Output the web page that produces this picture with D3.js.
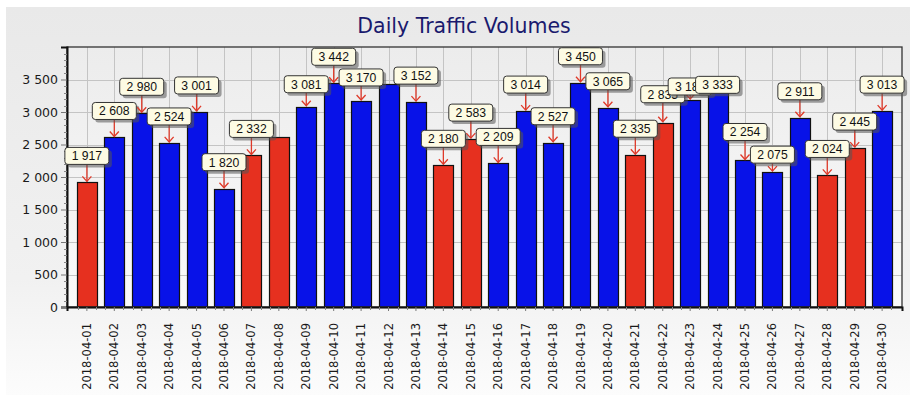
<!DOCTYPE html>
<html><head><meta charset="utf-8">
<script src="https://cdn.jsdelivr.net/npm/d3@7/dist/d3.min.js"></script>
<style>body{margin:0;background:#fff}svg{display:block}</style>
</head><body>
<svg id="c" width="916" height="400"></svg>
<script>
// ---- data ----
const dates = ["2018-04-01","2018-04-02","2018-04-03","2018-04-04","2018-04-05","2018-04-06","2018-04-07","2018-04-08","2018-04-09","2018-04-10","2018-04-11","2018-04-12","2018-04-13","2018-04-14","2018-04-15","2018-04-16","2018-04-17","2018-04-18","2018-04-19","2018-04-20","2018-04-21","2018-04-22","2018-04-23","2018-04-24","2018-04-25","2018-04-26","2018-04-27","2018-04-28","2018-04-29","2018-04-30"];
const volumes = [1917,2608,2980,2524,3001,1820,2332,2615,3081,3442,3170,3426,3152,2180,2583,2209,3014,2527,3450,3065,2335,2835,3185,3333,2254,2075,2911,2024,2445,3013];
const yTicks = [0,500,1000,1500,2000,2500,3000,3500];
const hiddenMarks = ["2018-04-08","2018-04-12"];
const title = "Daily Traffic Volumes";

// ---- layout / style ----
const P = {left: 67, right: 902, top: 47, bottom: 307};
const RED = "#e6301f", BLUE = "#0812e8";
const defaultLift = 18;
const liftOverride = {"2018-04-09":14,"2018-04-11":15,"2018-04-22":20,"2018-04-23":5,"2018-04-24":-3,"2018-04-25":20,"2018-04-26":9};

const svg = d3.select("#c");
const defs = svg.append("defs");
const g1 = defs.append("linearGradient").attr("id","panelG").attr("x1",0).attr("y1",0).attr("x2",0).attr("y2",1);
g1.append("stop").attr("offset","0%").attr("stop-color","#e9e9e9");
g1.append("stop").attr("offset","70%").attr("stop-color","#f1f1f1");
g1.append("stop").attr("offset","100%").attr("stop-color","#fcfcfc");
const g2 = defs.append("linearGradient").attr("id","plotG").attr("x1",0).attr("y1",0).attr("x2",0).attr("y2",1);
g2.append("stop").attr("offset","0%").attr("stop-color","#ececec");
g2.append("stop").attr("offset","100%").attr("stop-color","#fafafa");

svg.append("rect").attr("x",6).attr("y",7).attr("width",904).attr("height",388).attr("fill","url(#panelG)");

svg.append("text").attr("x",464).attr("y",33).attr("text-anchor","middle")
  .attr("font-family","DejaVu Sans, Verdana, sans-serif").attr("font-size",20.5)
  .attr("fill","#1a1a6e").text(title);

const x = d3.scaleBand().domain(dates).range([P.left, P.right]).paddingInner(0.27).paddingOuter(0.36);
const y = d3.scaleLinear().domain([0,4000]).range([P.bottom, P.top]);

svg.append("rect").attr("x",P.left).attr("y",P.top).attr("width",P.right-P.left).attr("height",P.bottom-P.top).attr("fill","url(#plotG)");

// grid
const grid = svg.append("g").attr("stroke","#c4c4c4").attr("stroke-width",1);
grid.selectAll("line.h").data(yTicks.slice(1)).join("line")
  .attr("x1",P.left).attr("x2",P.right).attr("y1",d=>Math.round(y(d))+0.5).attr("y2",d=>Math.round(y(d))+0.5);
grid.selectAll("line.v").data(dates).join("line")
  .attr("y1",P.top).attr("y2",P.bottom).attr("x1",d=>Math.round(x(d)+x.bandwidth()/2)+0.5).attr("x2",d=>Math.round(x(d)+x.bandwidth()/2)+0.5);

// bars
const isWeekend = d => { const wd = new Date(d+"T00:00:00Z").getUTCDay(); return wd===0||wd===6; };
svg.append("g").selectAll("rect").data(dates).join("rect")
  .attr("x",d=>Math.round(x(d))+0.5).attr("width",Math.round(x.bandwidth()))
  .attr("y",(d,i)=>Math.round(y(volumes[i]))+0.5).attr("height",(d,i)=>Math.round(y(0))-Math.round(y(volumes[i])))
  .attr("fill",d=>isWeekend(d)?RED:BLUE).attr("stroke","#111").attr("stroke-width",1.2);

// frame
svg.append("rect").attr("x",P.left).attr("y",P.top).attr("width",P.right-P.left).attr("height",P.bottom-P.top)
  .attr("fill","none").attr("stroke","#333").attr("stroke-width",1.3);

// y axis
const yAxis = d3.axisLeft(y).tickValues(yTicks).tickSize(6).tickPadding(3)
  .tickFormat(d=>d3.format(",")(d).replace(/,/g," "));
const ya = svg.append("g").attr("transform",`translate(${P.left},0)`).call(yAxis);
ya.select(".domain").attr("stroke","#111").attr("stroke-width",2);
ya.selectAll(".tick line").attr("stroke","#777");
ya.selectAll("text").attr("font-family","DejaVu Sans, Verdana, sans-serif").attr("font-size",12.5).attr("fill","#1a1a1a");
const yMinor = d3.range(0,4001,100).filter(v=>v%500!==0);
svg.append("g").selectAll("line").data(yMinor).join("line")
  .attr("x1",P.left-3).attr("x2",P.left).attr("y1",d=>Math.round(y(d))+0.5).attr("y2",d=>Math.round(y(d))+0.5).attr("stroke","#888");

// x axis
const xAxis = d3.axisBottom(x).tickSize(4);
const xa = svg.append("g").attr("transform",`translate(0,${P.bottom})`).call(xAxis);
xa.select(".domain").attr("stroke","#111").attr("stroke-width",2);
xa.selectAll(".tick line").attr("stroke","#777");
xa.selectAll("text").attr("font-family","DejaVu Sans, Verdana, sans-serif").attr("font-size",11.5).attr("fill","#1a1a1a")
  .attr("transform","rotate(-90)").attr("text-anchor","end").attr("y",0).attr("dy","0.35em").attr("x",-16);
const step = x.step();
const xMinor = [];
dates.forEach(d=>{ const c = x(d)+x.bandwidth()/2; xMinor.push(c-step/3, c+step/3); });
svg.append("g").selectAll("line").data(xMinor).join("line")
  .attr("x1",d=>Math.round(d)+0.5).attr("x2",d=>Math.round(d)+0.5).attr("y1",P.bottom).attr("y2",P.bottom+3).attr("stroke","#888");

// marks
const boxW = 44, boxH = 17;
const marks = svg.append("g");
dates.forEach((d,i)=>{
  if (hiddenMarks.includes(d)) return;
  const cx = x(d)+x.bandwidth()/2;
  const top = y(volumes[i]);
  const lift = liftOverride[d] ?? defaultLift;
  const bb = top - lift;
  const gg = marks.append("g");
  if (lift > 2) {
    gg.append("line").attr("x1",cx).attr("x2",cx).attr("y1",bb).attr("y2",top-1).attr("stroke","#e03a2a").attr("stroke-width",1.3);
    gg.append("path").attr("d",`M${cx-4.5},${top-6}L${cx},${top-1}L${cx+4.5},${top-6}`).attr("fill","none").attr("stroke","#e03a2a").attr("stroke-width",1.3);
  }
  gg.append("rect").attr("x",cx-boxW/2+3).attr("y",bb-boxH+3).attr("width",boxW).attr("height",boxH).attr("rx",3)
    .attr("fill","#555").attr("opacity",0.55);
  gg.append("rect").attr("x",cx-boxW/2).attr("y",bb-boxH).attr("width",boxW).attr("height",boxH).attr("rx",3)
    .attr("fill","#fdfbe4").attr("stroke","#333").attr("stroke-width",1);
  gg.append("text").attr("x",cx).attr("y",bb-boxH/2+4.3).attr("text-anchor","middle")
    .attr("font-family","Liberation Sans, Arial, sans-serif").attr("font-size",12.2).attr("fill","#111")
    .text(d3.format(",")(volumes[i]).replace(/,/g," "));
});
</script>
</body></html>
